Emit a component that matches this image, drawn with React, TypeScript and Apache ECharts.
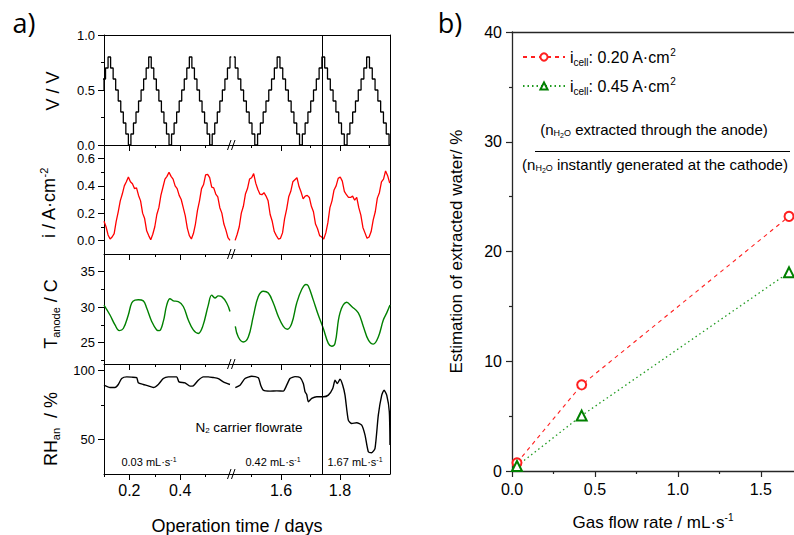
import React, { useEffect, useRef } from 'react';
import * as echarts from 'echarts';

const FONT = '"Liberation Sans", Arial, Helvetica, sans-serif';
const PANEL_LETTER_FONT = '"Open Sans", "Liberation Sans", sans-serif';

// ---------------- panel a) : broken time axis (days) ----------------
const TIME_LEFT_RANGE = [0.1, 0.6];
const TIME_RIGHT_RANGE = [1.43, 1.97];
const TIME_LEFT_MAJOR = [0.2, 0.4];
const TIME_LEFT_MINOR = [0.1, 0.3, 0.5];
const TIME_RIGHT_MAJOR = [1.6, 1.8];
const TIME_RIGHT_MINOR = [1.5, 1.7, 1.9];
const FLOW_CHANGE_TIME = 1.7435;

// V / V : staircase voltage, one value per step
const V_LEFT_START = 0.091;
const V_LEFT_STEP = 0.01;
const V_LEFT = [
  0.5, 0.6, 0.7, 0.8,
  0.7, 0.6, 0.5, 0.4, 0.3, 0.2, 0.1, 0,
  0.1, 0.2, 0.3, 0.4, 0.5, 0.6, 0.7, 0.8,
  0.7, 0.6, 0.5, 0.4, 0.3, 0.2, 0.1, 0,
  0.1, 0.2, 0.3, 0.4, 0.5, 0.6, 0.7, 0.8,
  0.7, 0.6, 0.5, 0.4, 0.3, 0.2, 0.1, 0,
  0.1, 0.2, 0.3, 0.4, 0.5, 0.6, 0.7, 0.8,
];
const V_RIGHT_START = 1.4395;
const V_RIGHT_STEP = 0.0095;
const V_RIGHT = [
  0.8,
  0.7, 0.6, 0.5, 0.4, 0.3, 0.2, 0.1, 0,
  0.1, 0.2, 0.3, 0.4, 0.5, 0.6, 0.7, 0.8,
  0.7, 0.6, 0.5, 0.4, 0.3, 0.2, 0.1, 0,
  0.1, 0.2, 0.3, 0.4, 0.5, 0.6, 0.7, 0.8,
  0.7, 0.6, 0.5, 0.4, 0.3, 0.2, 0.1, 0,
  0.1, 0.2, 0.3, 0.4, 0.5, 0.6, 0.7, 0.8,
  0.7, 0.6, 0.5, 0.4, 0.3, 0.2, 0.1, 0,
];

// i / A·cm-2 : sampled current density
const I_LEFT_START = 0.1;
const I_LEFT_STEP = 0.008;
const I_LEFT = [
  0.14, 0.1, 0.04, 0.01, 0.025, 0.05, 0.14, 0.21, 0.29, 0.34,
  0.4, 0.43, 0.465, 0.43, 0.415, 0.38, 0.385, 0.33, 0.29, 0.2,
  0.16, 0.07, 0.035, 0.005, 0.045, 0.1, 0.19, 0.24, 0.33, 0.39,
  0.45, 0.47, 0.5, 0.47, 0.45, 0.4, 0.38, 0.33, 0.3, 0.24,
  0.18, 0.09, 0.035, 0.01, 0.05, 0.12, 0.22, 0.29, 0.38, 0.41,
  0.48, 0.485, 0.46, 0.39, 0.385, 0.34, 0.32, 0.24, 0.2, 0.12,
  0.075, 0.02, 0.0,
];
const I_RIGHT_START = 1.444;
const I_RIGHT_STEP = 0.007;
const I_RIGHT = [
  0.0, 0.045, 0.1, 0.2, 0.25, 0.34, 0.38, 0.45, 0.46, 0.49,
  0.42, 0.375, 0.34, 0.335, 0.35, 0.325, 0.29, 0.19, 0.14, 0.065,
  0.035, 0.01, 0.015, 0.055, 0.16, 0.23, 0.32, 0.36, 0.43, 0.445,
  0.46, 0.395, 0.355, 0.305, 0.325, 0.33, 0.315, 0.25, 0.21, 0.12,
  0.085, 0.035, 0.025, 0.01, 0.055, 0.13, 0.24, 0.29, 0.37, 0.4,
  0.455, 0.465, 0.435, 0.36, 0.335, 0.315, 0.315, 0.325, 0.295, 0.315,
  0.24, 0.185, 0.095, 0.055, 0.015, 0.025, 0.065, 0.15, 0.21, 0.31,
  0.35, 0.43, 0.45, 0.51, 0.475, 0.42,
];

// T_anode / C : [time, temperature]
const T_LEFT = [
  [0.1, 30.3], [0.1236, 28.9], [0.1433, 27.5], [0.1602, 26.7], [0.176, 27.0],
  [0.1957, 28.9], [0.209, 30.6], [0.222, 31.0], [0.235, 31.05], [0.2547, 30.9],
  [0.268, 29.9], [0.2878, 28.0], [0.3075, 26.8], [0.3177, 26.7], [0.3335, 28.0],
  [0.3469, 30.3], [0.3598, 31.2], [0.3728, 30.9], [0.3925, 30.8], [0.4122, 30.1],
  [0.4319, 28.2], [0.4516, 26.8], [0.4713, 26.3], [0.4886, 27.3], [0.5106, 30.3],
  [0.524, 31.7], [0.537, 31.3], [0.55, 31.6], [0.5634, 31.5], [0.583, 30.6],
  [0.596, 29.4],
];
const T_RIGHT = [
  [1.4446, 27.3], [1.4548, 25.8], [1.4718, 25.1], [1.4888, 25.8], [1.5057, 28.7],
  [1.5227, 31.5], [1.5397, 32.25], [1.5567, 32.0], [1.5737, 30.6], [1.5907, 28.7],
  [1.6077, 27.3], [1.6212, 26.9], [1.6362, 27.7], [1.6532, 30.6], [1.6701, 32.5],
  [1.6848, 33.2], [1.6926, 33.0], [1.7096, 31.0], [1.7265, 28.9], [1.7435, 27.0],
  [1.7605, 24.9], [1.772, 24.5], [1.7833, 24.9], [1.8002, 29.2], [1.823, 30.7],
  [1.84, 30.1], [1.8624, 29.2], [1.8794, 27.3], [1.8964, 25.4], [1.9134, 24.8],
  [1.9303, 25.8], [1.9473, 28.2], [1.9589, 29.2], [1.97, 30.3],
];

// RH_an / % : [time, relative humidity]
const RH_LEFT = [
  [0.1, 89.2], [0.1236, 87.5], [0.1433, 87.5], [0.1563, 89.7], [0.1697, 94.0],
  [0.1894, 95.2], [0.2091, 95.0], [0.2287, 94.7], [0.235, 90.9], [0.2547, 89.7],
  [0.2744, 88.7], [0.2941, 87.5], [0.3138, 89.7], [0.3335, 94.0], [0.3531, 95.2],
  [0.3862, 95.2], [0.3953, 91.6], [0.419, 90.9], [0.4386, 88.5], [0.4516, 88.7],
  [0.4713, 92.8], [0.491, 95.2], [0.5106, 95.2], [0.5303, 94.7], [0.55, 94.0],
  [0.5697, 91.6], [0.596, 89.7],
];
const RH_RIGHT = [
  [1.4446, 87.5], [1.4606, 89.2], [1.4776, 94.0], [1.5003, 95.7], [1.5227, 94.5],
  [1.5309, 89.2], [1.5397, 85.6], [1.5625, 84.9], [1.5852, 85.1], [1.6077, 84.9],
  [1.6192, 89.2], [1.6304, 94.0], [1.6474, 95.4], [1.6644, 94.7], [1.6756, 90.4],
  [1.6814, 84.4], [1.6871, 82.5], [1.6926, 77.2], [1.7041, 79.6], [1.7211, 80.8],
  [1.7435, 80.8], [1.7605, 82.0], [1.7755, 86.8], [1.7833, 92.8], [1.7911, 90.4],
  [1.8002, 93.5], [1.8094, 89.2], [1.8172, 82.0], [1.8284, 63.9], [1.84, 61.5],
  [1.857, 62.0], [1.8739, 60.3], [1.8852, 53.1], [1.8964, 41.1], [1.9079, 40.4],
  [1.9191, 43.5], [1.9303, 67.5], [1.9419, 82.0], [1.9497, 85.6], [1.9589, 82.0],
  [1.9677, 70.0], [1.97, 45.9],
];

// y scales of the four stacked panels
const V_RANGE = [0, 1];
const V_MAJOR = [0, 0.5, 1.0];
const V_MINOR = [0.25, 0.75];
const I_RANGE = [-0.1, 0.7];
const I_MAJOR = [0, 0.2, 0.4, 0.6];
const I_MINOR = [0.1, 0.3, 0.5];
const T_RANGE = [22, 37.5];
const T_MAJOR = [25, 30, 35];
const T_MINOR = [22.5, 27.5, 32.5];
const RH_RANGE = [25, 104.5];
const RH_MAJOR = [50, 100];
const RH_MINOR = [75];

// ---------------- panel b) ----------------
const FLOW_RATE = [0.03, 0.42, 1.67];
const EXTRACTED_020 = [0.75, 7.85, 23.2];
const EXTRACTED_045 = [0.45, 5.05, 18.1];
const B_X_RANGE = [0, 1.7];
const B_X_MAJOR = [0, 0.5, 1.0, 1.5];
const B_X_MINOR = [0.25, 0.75, 1.25];
const B_Y_RANGE = [0, 40];
const B_Y_MAJOR = [0, 10, 20, 30, 40];
const B_Y_MINOR = [5, 15, 25, 35];

const sampled = (start: number, step: number, vals: number[]) =>
  vals.map((v, k) => [+(start + k * step).toFixed(4), v]);

function buildOption(): any {
  const BLACK = '#000';
  const ROWS: [number, number][] = [[35, 145], [145, 254], [254, 364], [364, 474]];
  const SEGS = [
    { px: [104, 231], range: TIME_LEFT_RANGE, major: TIME_LEFT_MAJOR, minor: TIME_LEFT_MINOR },
    { px: [231, 390], range: TIME_RIGHT_RANGE, major: TIME_RIGHT_MAJOR, minor: TIME_RIGHT_MINOR },
  ];
  const PANELS = [
    {
      range: V_RANGE, major: V_MAJOR, minor: V_MINOR, fmt: (v: number) => v.toFixed(1),
      data: [sampled(V_LEFT_START, V_LEFT_STEP, V_LEFT), sampled(V_RIGHT_START, V_RIGHT_STEP, V_RIGHT)],
      style: { step: 'middle', lineStyle: { color: '#000', width: 1.3 } },
    },
    {
      range: I_RANGE, major: I_MAJOR, minor: I_MINOR, fmt: (v: number) => v.toFixed(1),
      data: [sampled(I_LEFT_START, I_LEFT_STEP, I_LEFT), sampled(I_RIGHT_START, I_RIGHT_STEP, I_RIGHT)],
      style: { lineStyle: { color: '#ff0000', width: 1.3 } },
    },
    {
      range: T_RANGE, major: T_MAJOR, minor: T_MINOR, fmt: (v: number) => String(v),
      data: [T_LEFT, T_RIGHT],
      style: { smooth: 0.4, lineStyle: { color: '#008000', width: 1.4 } },
    },
    {
      range: RH_RANGE, major: RH_MAJOR, minor: RH_MINOR, fmt: (v: number) => String(v),
      data: [RH_LEFT, RH_RIGHT],
      style: { smooth: 0.2, lineStyle: { color: '#000', width: 1.4 } },
    },
  ];

  const grid: any[] = [];
  const xAxis: any[] = [];
  const yAxis: any[] = [];
  const series: any[] = [];
  const line = (show: boolean, color = BLACK, width = 1) => ({ show, onZero: false, lineStyle: { color, width } });

  PANELS.forEach((p, pi) => {
    const [top, bottom] = ROWS[pi];
    SEGS.forEach((s, si) => {
      const gi = grid.length;
      grid.push({ left: s.px[0], width: s.px[1] - s.px[0], top, height: bottom - top, outerBoundsMode: 'none' });
      const xMain = xAxis.length;
      xAxis.push({
        gridIndex: gi, type: 'value', min: s.range[0], max: s.range[1], position: 'bottom',
        axisLine: line(true),
        axisTick: { show: true, inside: false, length: 6, customValues: s.major, lineStyle: { color: BLACK, width: 1 } },
        axisLabel: {
          show: pi === 3, customValues: s.major, formatter: (v: number) => v.toFixed(1),
          fontSize: 16, fontFamily: FONT, color: BLACK, margin: 8,
        },
        splitLine: { show: false },
      });
      xAxis.push({
        gridIndex: gi, type: 'value', min: s.range[0], max: s.range[1], position: 'bottom',
        axisLine: line(false),
        axisTick: { show: true, inside: false, length: 3, customValues: s.minor, lineStyle: { color: BLACK, width: 1 } },
        axisLabel: { show: false }, splitLine: { show: false },
      });
      if (pi === 0) {
        xAxis.push({
          gridIndex: gi, type: 'value', min: s.range[0], max: s.range[1], position: 'top',
          axisLine: line(true), axisTick: { show: false }, axisLabel: { show: false }, splitLine: { show: false },
        });
      }
      const yMain = yAxis.length;
      if (si === 0) {
        yAxis.push({
          gridIndex: gi, type: 'value', min: p.range[0], max: p.range[1], position: 'left',
          axisLine: line(true),
          axisTick: { show: true, inside: false, length: 6, customValues: p.major, lineStyle: { color: BLACK, width: 1 } },
          axisLabel: { show: true, customValues: p.major, formatter: p.fmt, fontSize: 13, lineHeight: 13, fontFamily: FONT, color: BLACK, margin: 9 },
          splitLine: { show: false },
        });
        yAxis.push({
          gridIndex: gi, type: 'value', min: p.range[0], max: p.range[1], position: 'left',
          axisLine: line(false),
          axisTick: { show: true, inside: false, length: 3, customValues: p.minor, lineStyle: { color: BLACK, width: 1 } },
          axisLabel: { show: false }, splitLine: { show: false },
        });
      } else {
        yAxis.push({
          gridIndex: gi, type: 'value', min: p.range[0], max: p.range[1], position: 'right',
          axisLine: line(true), axisTick: { show: false }, axisLabel: { show: false }, splitLine: { show: false },
        });
      }
      const ser: any = {
        type: 'line', xAxisIndex: xMain, yAxisIndex: yMain, data: p.data[si],
        symbol: 'none', showSymbol: false, clip: true, silent: true,
        ...p.style,
      };
      if (si === 1) {
        ser.markLine = {
          silent: true, symbol: ['none', 'none'], label: { show: false },
          lineStyle: { color: BLACK, width: 1, type: 'solid' },
          data: [{ xAxis: FLOW_CHANGE_TIME }],
        };
      }
      series.push(ser);
    });
  });

  // ---- panel b) ----
  const AX = '#262626';
  const gb = grid.length;
  grid.push({ left: 512, top: 32, width: 282, height: 439, outerBoundsMode: 'none' });
  const bx = xAxis.length;
  xAxis.push({
    gridIndex: gb, type: 'value', min: B_X_RANGE[0], max: B_X_RANGE[1], position: 'bottom',
    axisLine: line(true, AX, 1.3),
    axisTick: { show: true, length: 6, customValues: B_X_MAJOR, lineStyle: { color: AX, width: 1.2 } },
    axisLabel: { customValues: B_X_MAJOR, formatter: (v: number) => v.toFixed(1), fontSize: 16, fontFamily: FONT, color: BLACK, margin: 10 },
    splitLine: { show: false },
    name: '{a|Gas flow rate / mL·s}{sup|-1}', nameLocation: 'middle', nameGap: 41, nameMoveOverlap: false,
    nameTextStyle: {
      fontSize: 17, fontFamily: FONT, color: BLACK,
      rich: {
        a: { fontSize: 17, fontFamily: FONT, color: BLACK },
        sup: { fontSize: 10, fontFamily: FONT, color: BLACK, padding: [0, 0, 10, 0] },
      },
    },
  });
  xAxis.push({
    gridIndex: gb, type: 'value', min: B_X_RANGE[0], max: B_X_RANGE[1], position: 'bottom',
    axisLine: line(false),
    axisTick: { show: true, length: 3, customValues: B_X_MINOR, lineStyle: { color: AX, width: 1.2 } },
    axisLabel: { show: false }, splitLine: { show: false },
  });
  xAxis.push({
    gridIndex: gb, type: 'value', min: B_X_RANGE[0], max: B_X_RANGE[1], position: 'top',
    axisLine: line(true, AX, 1.3), axisTick: { show: false }, axisLabel: { show: false }, splitLine: { show: false },
  });
  const by = yAxis.length;
  yAxis.push({
    gridIndex: gb, type: 'value', min: B_Y_RANGE[0], max: B_Y_RANGE[1], position: 'left',
    axisLine: line(true, AX, 1.3),
    axisTick: { show: true, length: 6, customValues: B_Y_MAJOR, lineStyle: { color: AX, width: 1.2 } },
    axisLabel: { customValues: B_Y_MAJOR, fontSize: 16, fontFamily: FONT, color: BLACK, margin: 10 },
    splitLine: { show: false },
    name: 'Estimation of extracted water/ %', nameLocation: 'middle', nameGap: 47, nameRotate: 90, nameMoveOverlap: false,
    nameTextStyle: { fontSize: 17, fontFamily: FONT, color: BLACK },
  });
  yAxis.push({
    gridIndex: gb, type: 'value', min: B_Y_RANGE[0], max: B_Y_RANGE[1], position: 'left',
    axisLine: line(false),
    axisTick: { show: true, length: 3, customValues: B_Y_MINOR, lineStyle: { color: AX, width: 1.2 } },
    axisLabel: { show: false }, splitLine: { show: false },
  });
  series.push({
    name: 'cell020', type: 'line', xAxisIndex: bx, yAxisIndex: by,
    data: FLOW_RATE.map((f, i) => [f, EXTRACTED_020[i]]),
    symbol: 'emptyCircle', symbolSize: 9,
    lineStyle: { color: '#ff2020', width: 1.1, type: [4, 4] },
    itemStyle: { color: '#ff2020', borderWidth: 1.1 },
  });
  series.push({
    name: 'cell045', type: 'line', xAxisIndex: bx, yAxisIndex: by,
    data: FLOW_RATE.map((f, i) => [f, EXTRACTED_045[i]]),
    symbol: 'emptyTriangle', symbolSize: 10,
    lineStyle: { color: '#1f9a1f', width: 1.3, type: [1.5, 3] },
    itemStyle: { color: '#008000', borderWidth: 1.1 },
  });

  const LEGEND_LABEL: Record<string, string> = {
    cell020: '{b|i}{sub|cell}{b|: 0.20 A·cm}{sup|2}',
    cell045: '{b|i}{sub|cell}{b|: 0.45 A·cm}{sup|2}',
  };

  // ---- text and decorations ----
  const txt = (x: number, y: number, text: string, fontSize: number, rich?: any, rotation = 0, font = FONT): any => ({
    type: 'text', x, y, rotation, silent: true,
    style: {
      text, fontSize, fontFamily: font, fill: BLACK,
      align: 'center', verticalAlign: 'middle', textAlign: 'center', textVerticalAlign: 'middle',
      rich,
    },
  });
  const R = (size: number) => ({
    a: { fontSize: size, fontFamily: FONT, color: BLACK },
    sub: { fontSize: Math.round(size * 0.6), fontFamily: FONT, color: BLACK, padding: [Math.round(size * 0.55), 0, 0, 0] },
    sup: { fontSize: Math.round(size * 0.6), fontFamily: FONT, color: BLACK, padding: [0, 0, Math.round(size * 0.55), 0] },
    ss: { fontSize: Math.round(size * 0.45), fontFamily: FONT, color: BLACK, padding: [Math.round(size * 0.85), 0, 0, 0] },
  });
  const breakMarks: any[] = [];
  [145, 254, 364, 474].forEach((yb) => {
    breakMarks.push({ type: 'line', silent: true, shape: { x1: 227.5, y1: yb + 5, x2: 231, y2: yb - 5 }, style: { stroke: BLACK, lineWidth: 1 } });
    breakMarks.push({ type: 'line', silent: true, shape: { x1: 231.5, y1: yb + 5, x2: 235, y2: yb - 5 }, style: { stroke: BLACK, lineWidth: 1 } });
  });

  const graphic = [
    txt(24, 22, 'a)', 27, undefined, 0, PANEL_LETTER_FONT),
    txt(450, 22, 'b)', 27, undefined, 0, PANEL_LETTER_FONT),
    txt(53, 91, '{a|V / V}', 18, R(18), Math.PI / 2),
    txt(49, 203, '{a|i / A·cm}{sup|-2}', 18, R(18), Math.PI / 2),
    txt(51, 314, '{a|T}{sub|anode}{a| / C}', 18, R(18), Math.PI / 2),
    txt(51, 429, '{a|RH}{sub|an}{a|  / %}', 18, R(18), Math.PI / 2),
    txt(237, 526, 'Operation time / days', 18),
    txt(249, 427, '{a|N}{sub|2}{a| carrier flowrate}', 13.5, R(13.5)),
    txt(149, 462, '{a|0.03 mL·s}{sup|-1}', 11, R(11)),
    txt(273, 462, '{a|0.42 mL·s}{sup|-1}', 11, R(11)),
    txt(355, 462, '{a|1.67 mL·s}{sup|-1}', 11, R(11)),
    txt(654, 129, '{a|(n}{sub|H}{ss|2}{sub|O}{a| extracted through the anode)}', 15, R(15)),
    { type: 'line', silent: true, shape: { x1: 535, y1: 151.5, x2: 790, y2: 151.5 }, style: { stroke: BLACK, lineWidth: 1 } },
    txt(655, 164, '{a|(n}{sub|H}{ss|2}{sub|O}{a| instantly generated at the cathode)}', 15, R(15)),
    ...breakMarks,
  ];

  return {
    animation: false,
    backgroundColor: '#fff',
    textStyle: { fontFamily: FONT },
    grid, xAxis, yAxis, series, graphic,
    legend: {
      show: true, left: 517, top: 42, orient: 'vertical', itemWidth: 42, itemHeight: 9, itemGap: 9,
      selectedMode: false, data: ['cell020', 'cell045'],
      formatter: (n: string) => LEGEND_LABEL[n],
      textStyle: {
        fontSize: 16, fontFamily: FONT, color: BLACK,
        rich: {
          b: { fontSize: 16, fontFamily: FONT, color: BLACK },
          sub: { fontSize: 10, fontFamily: FONT, color: BLACK, padding: [10, 0, 0, 0] },
          sup: { fontSize: 10, fontFamily: FONT, color: BLACK, padding: [0, 0, 10, 0] },
        },
      },
    },
  };
}

export default function App() {
  const ref = useRef<HTMLDivElement>(null);
  useEffect(() => {
    if (!ref.current) return;
    const chart = echarts.init(ref.current, null, { renderer: 'svg' });
    chart.setOption(buildOption());
    return () => chart.dispose();
  }, []);
  return <div ref={ref} style={{ position: 'absolute', left: 0, top: 0, width: 794, height: 535 }} />;
}
